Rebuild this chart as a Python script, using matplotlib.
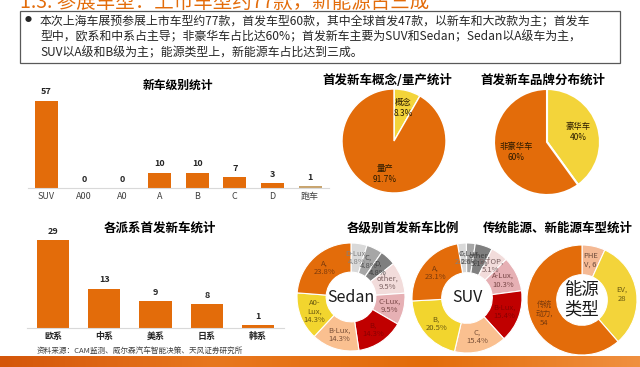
import matplotlib
matplotlib.use('Agg')
import matplotlib.pyplot as plt
from matplotlib.patches import Rectangle
from matplotlib.colors import LinearSegmentedColormap
import numpy as np

plt.rcParams['font.family'] = ['Noto Sans CJK SC', 'DejaVu Sans']

W, H = 640, 367
ORANGE = '#E36C0A'
YELLOW = '#F3D43A'

# data
level_cats = ['SUV', 'A00', 'A0', 'A', 'B', 'C', 'D', '跑车']
level_vals = [57, 0, 0, 10, 10, 7, 3, 1]

region_cats = ['欧系', '中系', '美系', '日系', '韩系']
region_vals = [29, 13, 9, 8, 1]

concept_labels = ['概念', '量产']
concept_vals = [8.3, 91.7]

brand_labels = ['豪华车', '非豪华车']
brand_vals = [40, 60]

sedan_labels = ['D-Lux', 'C', 'D', 'other', 'C-Lux', 'B', 'B-Lux', 'A0-\nLux', 'A']
sedan_vals = [4.8, 4.8, 4.8, 9.5, 9.5, 14.3, 14.3, 14.3, 23.8]

suv_labels = ['A', 'C-Lux', 'other', 'D-TOP', 'A-Lux', 'B-Lux', 'C', 'B', 'A']
suv_vals = [2.6, 2.6, 5.1, 5.1, 10.3, 15.4, 15.4, 20.5, 23.1]

energy_labels = ['PHE\nV', 'EV', '传统\n动力']
energy_vals = [6, 28, 54]

ring_colors = ['#D9D9D9', '#A6A6A6', '#7F7F7F', '#F2DCDB', '#E6B0B4',
               '#C00000', '#FAC090', '#F2D52E', ORANGE]
ring_text = ['#808080', '#505050', '#404040', '#7a6060', '#7a4848',
             '#8a0000', '#7a5038', '#6b5a10', '#7a3a0c']

fig = plt.figure(figsize=(W / 100, H / 100), dpi=100)


def px_axes(x0, y0, x1, y1):
    return fig.add_axes([x0 / W, 1 - y1 / H, (x1 - x0) / W, (y1 - y0) / H])


def pie_axes(cx, cy, r, pad=4):
    ax = px_axes(cx - r - pad, cy - r - pad, cx + r + pad, cy + r + pad)
    return ax, 1 + pad / r


def fix_lims(ax, lim):
    ax.set_xlim(-lim, lim)
    ax.set_ylim(-lim, lim)
    ax.axis('off')


# background layer in pixel coordinates
bg = fig.add_axes([0, 0, 1, 1])
grad = np.linspace(0, 1, 256).reshape(1, -1)
cmap = LinearSegmentedColormap.from_list('band', ['#D4560A', '#E8771E', '#E36C0A', '#F09040'])
bg.imshow(grad, extent=[0, W, H, 356], aspect='auto', cmap=cmap)
bg.set_xlim(0, W)
bg.set_ylim(H, 0)
bg.axis('off')

bg.text(20, 13, '1.3. 参展车型：上市车型约77款，新能源占三成', fontsize=14,
        color=ORANGE, va='bottom', ha='left')
bg.add_patch(Rectangle((20, 11), 600, 52, fill=False, ec='#595959', lw=0.9))
bg.text(28, 20, '●', fontsize=5, va='center', ha='center', color='#262626')
lines = ['本次上海车展预参展上市车型约77款，首发车型60款，其中全球首发47款，以新车和大改款为主；首发车',
         '型中，欧系和中系占主导；非豪华车占比达60%；首发新车主要为SUV和Sedan；Sedan以A级车为主，',
         'SUV以A级和B级为主；能源类型上，新能源车占比达到三成。']
for i, ln in enumerate(lines):
    bg.text(40, 21 + i * 16, ln, fontsize=8.6, va='center', ha='left', color='#262626')

bg.text(178, 85, '新车级别统计', fontsize=8.5, fontweight='bold', ha='center', va='center')
bg.text(160, 228, '各派系首发新车统计', fontsize=9, fontweight='bold', ha='center', va='center')
bg.text(387, 80, '首发新车概念/量产统计', fontsize=9, fontweight='bold', ha='center', va='center')
bg.text(543, 80, '首发新车品牌分布统计', fontsize=9, fontweight='bold', ha='center', va='center')
bg.text(403, 228, '各级别首发新车比例', fontsize=9, fontweight='bold', ha='center', va='center')
bg.text(558, 228, '传统能源、新能源车型统计', fontsize=9, fontweight='bold', ha='center', va='center')
bg.text(37, 352, '资料来源：CAM监测、威尔森汽车智能决策、天风证券研究所', fontsize=5.5,
        color='#404040', ha='left', va='center')


def bar_chart(ax, cats, vals, colors, width, ymax, lab_kw):
    bars = ax.bar(range(len(cats)), vals, width=width, color=colors)
    ax.bar_label(bars, padding=3, fontsize=6.5, fontweight='bold', color='#262626')
    ax.set_xlim(-0.5, len(cats) - 0.5)
    ax.set_ylim(0, ymax)
    ax.set_xticks(range(len(cats)))
    ax.set_xticklabels(cats, **lab_kw)
    ax.tick_params(length=0, pad=3)
    ax.set_yticks([])
    for s in ['top', 'left', 'right']:
        ax.spines[s].set_visible(False)
    ax.spines['bottom'].set_color('#D9D9D9')
    ax.spines['bottom'].set_linewidth(0.8)
    ax.patch.set_alpha(0)


ax1 = px_axes(27.6, 188 - 60 * 1.535, 329, 188)
bar_chart(ax1, level_cats, level_vals, [ORANGE] * 7 + ['#C8A46E'], 0.61, 60,
          dict(fontsize=6.5, color='#404040'))

ax2 = px_axes(27.3, 328 - 31 * 3.03, 283.8, 328)
bar_chart(ax2, region_cats, region_vals, ORANGE, 0.63, 31,
          dict(fontsize=6.5, color='#262626', fontweight='bold'))

# pies
axp1, lim = pie_axes(394, 141, 52)
_, t1 = axp1.pie(concept_vals, colors=[YELLOW, ORANGE], startangle=90, counterclock=False,
                 labels=[f'{l}\n{v:g}%' for l, v in zip(concept_labels, concept_vals)],
                 labeldistance=0.66, wedgeprops=dict(edgecolor='white', linewidth=1),
                 textprops=dict(fontsize=6, color='#2a1a00'))
for t in t1:
    t.set_ha('center')
fix_lims(axp1, lim)

axp2, lim = pie_axes(547, 142, 53)
_, t2 = axp2.pie(brand_vals, colors=[YELLOW, ORANGE], startangle=90, counterclock=False,
                 labels=[f'{l}\n{v:g}%' for l, v in zip(brand_labels, brand_vals)],
                 labeldistance=0.62, wedgeprops=dict(edgecolor='white', linewidth=1.5),
                 textprops=dict(fontsize=6, color='#2a1a00'))
for t in t2:
    t.set_ha('center')
fix_lims(axp2, lim)


def donut(cx, cy, r, labels, vals, colors, tcolors, center, start=90, csize=11.5):
    ax, lim = pie_axes(cx, cy, r)
    _, ts = ax.pie(vals, colors=colors, startangle=start, counterclock=False,
                   labels=labels, labeldistance=0.73,
                   wedgeprops=dict(width=0.54, edgecolor='white', linewidth=0.8),
                   textprops=dict(fontsize=5.5, linespacing=1.1))
    for t, c in zip(ts, tcolors):
        t.set_ha('center')
        t.set_color(c)
    ax.text(0, 0, center, fontsize=csize, ha='center', va='center', color='#1a1a1a',
            linespacing=1.1)
    fix_lims(ax, lim)
    return ax


donut(351, 297, 54, [f'{l},\n{v:g}%' for l, v in zip(sedan_labels, sedan_vals)],
      sedan_vals, ring_colors, ring_text, 'Sedan')
donut(467, 298, 55, [f'{l},\n{v:g}%' for l, v in zip(suv_labels, suv_vals)],
      suv_vals, ring_colors, ring_text, 'SUV', start=100)
energy_text = [f'{energy_labels[0]}, {energy_vals[0]}',
               f'{energy_labels[1]},\n{energy_vals[1]}',
               f'{energy_labels[2]},\n{energy_vals[2]}']
donut(582, 300, 55, energy_text, energy_vals, ['#F4B994', YELLOW, ORANGE],
      ['#6a4a3a', '#6b5a10', '#7a3a0c'], '能源\n类型', csize=12.5)

fig.savefig('out.png', dpi=100)
